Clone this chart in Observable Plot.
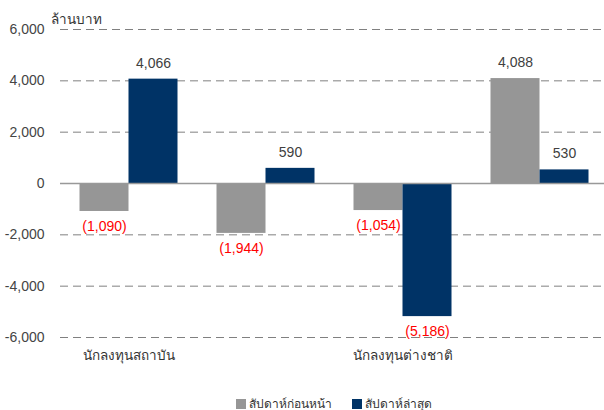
<!DOCTYPE html>
<html>
<head>
<meta charset="utf-8">
<script src="https://cdn.jsdelivr.net/npm/d3@7"></script>
<script src="https://cdn.jsdelivr.net/npm/@observablehq/plot@0.6"></script>
<style>
  body { margin: 0; background: #fff; font-family: "Liberation Sans", Arial, sans-serif; }
  #legend { height: 20px; position: relative; font-size: 12px; color: #333; }
  .item { position: absolute; top: 4px; display: flex; align-items: center; }
  .sw { width: 10px; height: 10px; margin-right: 3px; display: inline-block; }
</style>
</head>
<body>
<div id="chart"></div>
<div id="legend"></div>
<script>
const categories = ["นักลงทุนสถาบัน", "บัญชีบริษัทหลักทรัพย์", "นักลงทุนต่างชาติ", "นักลงทุนทั่วไปในประเทศ"];
const seriesNames = ["สัปดาห์ก่อนหน้า", "สัปดาห์ล่าสุด"];
const prevWeek = [-1090, -1944, -1054, 4088];
const lastWeek = [4066, 590, -5186, 530];
const yTicks = [-6000, -4000, -2000, 0, 2000, 4000, 6000];
const unitLabel = "ล้านบาท";
const colors = ["#969696", "#003366"];

const rows = [];
categories.forEach((c, i) => {
  rows.push({cat: c, series: seriesNames[0], value: prevWeek[i]});
  rows.push({cat: c, series: seriesNames[1], value: lastWeek[i]});
});
const prevRows = rows.filter(d => d.series === seriesNames[0]);
const lastRows = rows.filter(d => d.series === seriesNames[1]);

const fmtAxis = d => (d < 0 ? "-" : "") + d3.format(",")(Math.abs(d));
const fmtVal = d => d < 0 ? "(" + d3.format(",")(Math.abs(d)) + ")" : d3.format(",")(d);

const font = "Liberation Sans, Arial, sans-serif";

function labels(data, dx) {
  return [
    Plot.text(data.filter(d => d.value >= 0), {x: "cat", y: "value", text: d => fmtVal(d.value), dx, dy: -16, fill: "#404040", fontSize: 14}),
    Plot.text(data.filter(d => d.value < 0), {x: "cat", y: "value", text: d => fmtVal(d.value), dx, dy: 15, fill: "#ff0000", fontSize: 14})
  ];
}

const chart = Plot.plot({
  width: 604,
  height: 390,
  marginLeft: 60,
  marginRight: -4,
  marginTop: 29,
  marginBottom: 53,
  style: {fontFamily: font, background: "#fff", overflow: "visible"},
  x: {type: "band", domain: categories, padding: 0, axis: null},
  y: {domain: [-6000, 6000], axis: null},
  marks: [
    Plot.ruleY(yTicks.filter(d => d !== 0), {stroke: "#808080", strokeWidth: 1, strokeDasharray: "8,5"}),
    Plot.barY(prevRows, {x: "cat", y: "value", fill: colors[0], insetLeft: 19.5, insetRight: 68.5}),
    Plot.barY(lastRows, {x: "cat", y: "value", fill: colors[1], insetLeft: 68.5, insetRight: 19.5}),
    Plot.ruleY([0], {stroke: "#999", strokeWidth: 1.5}),
    Plot.axisY({ticks: yTicks, tickFormat: fmtAxis, tickSize: 0, tickPadding: 16, fontSize: 14, fill: "#444", label: null}),
    Plot.axisX({ticks: [categories[0], categories[2]], tickSize: 0, tickPadding: 13, fontSize: 13.5, fill: "#333", label: null}),
    ...labels(prevRows, -24.5),
    ...labels(lastRows, 24.5),
    Plot.text([unitLabel], {frameAnchor: "top-left", dx: -10, dy: -6, lineAnchor: "bottom", textAnchor: "start", fontSize: 13.5, fill: "#333"})
  ]
});
document.getElementById("chart").appendChild(chart);

const legend = document.getElementById("legend");
const lefts = [236, 352];
seriesNames.forEach((s, i) => {
  const it = document.createElement("div");
  it.className = "item";
  it.style.left = lefts[i] + "px";
  it.innerHTML = `<span class="sw" style="background:${colors[i]}"></span><span>${s}</span>`;
  legend.appendChild(it);
});
</script>
</body>
</html>
